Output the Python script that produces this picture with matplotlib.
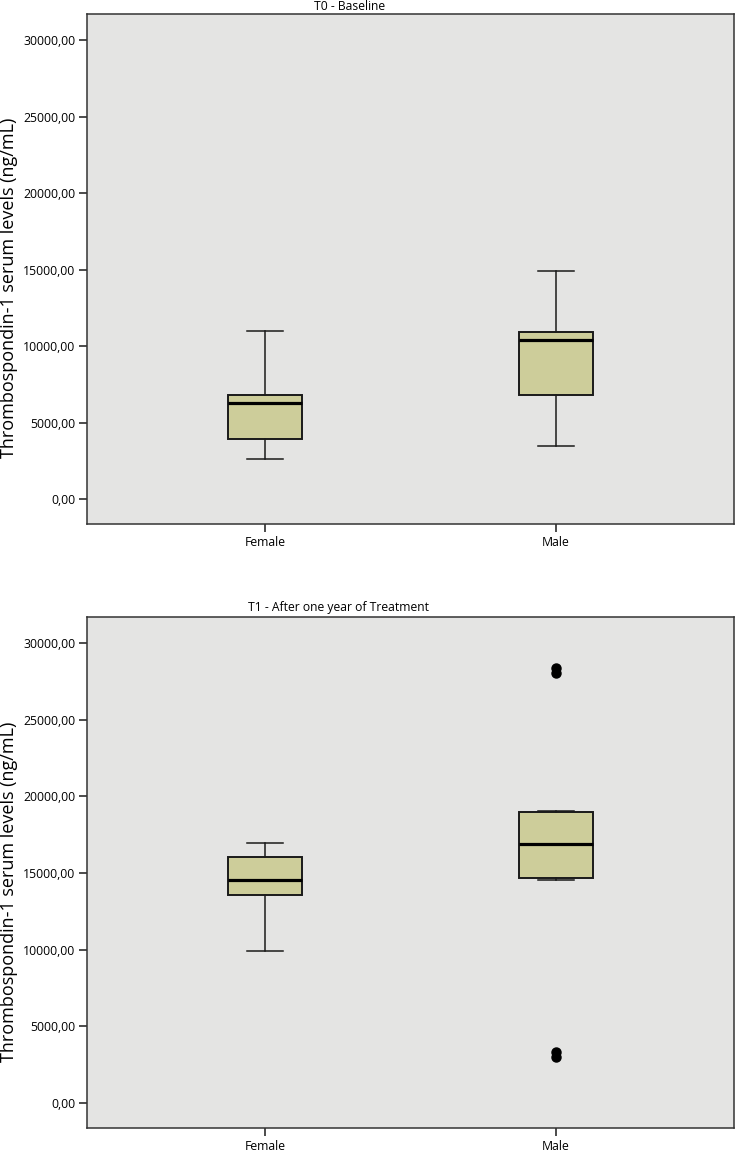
import matplotlib.pyplot as plt
from matplotlib.ticker import FuncFormatter

groups = ['Female', 'Male']
titles = ['T0 - Baseline', 'T1 - After one year of Treatment']

# T0 - Baseline: whisker low, Q1, median, Q3, whisker high
t0_whislo = [2620, 3480]
t0_q1 = [3920, 6800]
t0_med = [6280, 10390]
t0_q3 = [6800, 10900]
t0_whishi = [10980, 14900]
t0_fliers = [[], []]

# T1 - After one year of Treatment
t1_whislo = [9900, 14550]
t1_q1 = [13550, 14650]
t1_med = [14520, 16920]
t1_q3 = [16050, 19000]
t1_whishi = [16950, 19020]
t1_fliers = [[], [28400, 28050, 3350, 3000]]

ylabel = 'Thrombospondin-1 serum levels (ng/mL)'
plt.rcParams['font.family'] = ['Open Sans', 'DejaVu Sans']

W, H = 735, 1151
fig = plt.figure(figsize=(W / 100, H / 100), dpi=100)


def make_stats(lo, q1, med, q3, hi, fl):
    out = []
    for i in range(len(groups)):
        out.append({'label': groups[i], 'whislo': lo[i], 'q1': q1[i], 'med': med[i],
                    'q3': q3[i], 'whishi': hi[i], 'fliers': fl[i]})
    return out


panels = [
    (make_stats(t0_whislo, t0_q1, t0_med, t0_q3, t0_whishi, t0_fliers), (14, 524), (350, 6.5)),
    (make_stats(t1_whislo, t1_q1, t1_med, t1_q3, t1_whishi, t1_fliers), (617, 1128), (338, 608)),
]

for i, (stats, (ytop, ybot), (tx, ty)) in enumerate(panels):
    ax = fig.add_axes([87 / W, 1 - ybot / H, (734 - 87) / W, (ybot - ytop) / H])
    ax.set_facecolor('#e4e4e3')
    ax.bxp(stats, positions=[0, 1], widths=0.254, capwidths=0.124, patch_artist=True,
           boxprops=dict(facecolor='#cdcd9a', edgecolor='#1a1a1a', linewidth=1.4),
           whiskerprops=dict(color='#1a1a1a', linewidth=1.1),
           capprops=dict(color='#1a1a1a', linewidth=1.1),
           medianprops=dict(color='black', linewidth=2.3),
           flierprops=dict(marker='o', markerfacecolor='black', markeredgecolor='black',
                           markersize=6.5))
    ax.set_xlim(-0.612, 1.612)
    ax.set_ylim(-1620, 31700)
    ax.set_yticks([0, 5000, 10000, 15000, 20000, 25000, 30000])
    ax.yaxis.set_major_formatter(FuncFormatter(lambda v, p: f'{v:.2f}'.replace('.', ',')))
    ax.set_xticks([0, 1])
    ax.set_xticklabels(groups)
    ax.tick_params(axis='both', labelsize=8.8, length=6, width=1.1, color='#1a1a1a', pad=2.5)
    for s in ax.spines.values():
        s.set_color('#333333')
        s.set_linewidth(1.1)
    ax.set_ylabel(ylabel, fontsize=13)
    ax.yaxis.set_label_coords(-0.106, 0.463)
    fig.text(tx / W, 1 - ty / H, titles[i], ha='center', va='center', fontsize=8.7)

fig.savefig('out.png', dpi=100)
